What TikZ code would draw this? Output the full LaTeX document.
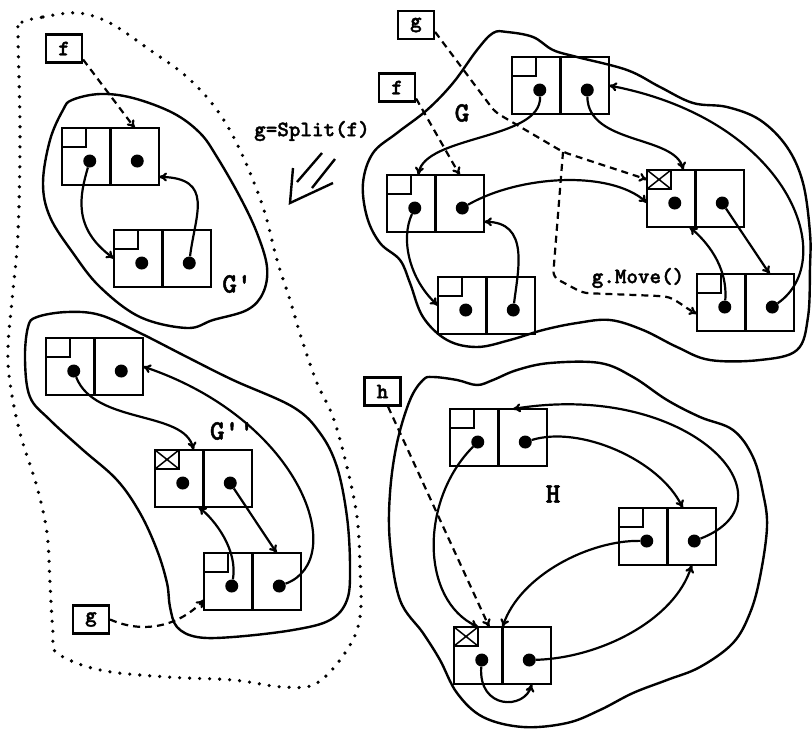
\documentclass[tikz,border=0pt]{standalone}
\usepackage{fontspec}
\newfontfamily\labfont{lmmonolt10-bold.otf}[FakeBold=1.6]
\usetikzlibrary{arrows.meta}
\begin{document}
\begin{tikzpicture}[x=1pt,y=-1pt,
  every node/.style={font=\fontsize{22}{24}\selectfont\labfont},
  cell/.style={draw,line width=2.6pt,minimum width=48.5pt,minimum height=57pt,inner sep=0pt,outer sep=0pt},
  tag/.style={draw,line width=1.9pt,minimum width=24pt,minimum height=19pt,inner sep=0pt,outer sep=0pt},
  dot/.style={circle,fill,inner sep=0pt,minimum size=13pt},
  var/.style={draw,line width=2.2pt,minimum width=36pt,minimum height=28pt,inner sep=0pt},
  big/.style={font=\fontsize{28}{30}\selectfont\labfont},
  ptr/.style={line width=2.2pt,-{To[length=8pt,width=9pt]}},
  pdash/.style={ptr,dash pattern=on 7pt off 5pt},
  blob/.style={line width=2.4pt}]
 \useasboundingbox (0,0) rectangle (812,729);
 % regions
 \draw[line width=3.6pt,line cap=round,dash pattern=on 0pt off 10pt] plot[smooth cycle,tension=0.6] coordinates {(20,23) (43,17) (78,13) (110,23) (150,50) (187,77) (217,110) (240,150) (263,207) (277,260) (290,300) (302,340) (317,383) (333,417) (347,467) (357,517) (360,567) (360,617) (347,650) (317,683) (283,687) (233,680) (167,677) (100,670) (57,653) (53,633) (50,583) (47,533) (37,487) (20,433) (10,383) (8,347) (12,300) (18,233) (20,133) (18,33)};
 \draw[blob] plot[smooth cycle,tension=0.6] coordinates {(72,100) (100,94) (133,98) (173,113) (200,133) (217,157) (240,197) (257,233) (267,267) (263,293) (247,310) (213,320) (187,328) (140,317) (100,287) (73,253) (50,217) (43,183) (50,140) (63,110)};
 \draw[blob] plot[smooth cycle,tension=0.6] coordinates {(37,317) (67,312) (100,315) (140,333) (187,357) (233,380) (293,407) (320,433) (337,467) (347,517) (350,567) (347,600) (330,620) (293,630) (233,637) (197,637) (177,627) (170,607) (167,583) (157,550) (140,513) (117,480) (83,450) (50,420) (30,397) (25,360) (28,327)};
 \draw[blob] plot[smooth cycle,tension=0.6] coordinates {(507,32) (533,37) (553,50) (577,57) (627,70) (660,87) (693,103) (727,107) (760,120) (787,147) (803,183) (810,233) (810,267) (808,317) (797,350) (760,360) (710,360) (677,347) (643,330) (610,320) (577,323) (543,330) (510,340) (477,347) (447,340) (423,317) (410,283) (400,260) (380,243) (367,217) (363,183) (373,153) (397,133) (427,110) (453,83) (477,50) (493,33)};
 \draw[blob] plot[smooth cycle,tension=0.6] coordinates {(433,377) (457,380) (477,385) (493,380) (517,370) (550,363) (600,363) (633,377) (667,400) (700,417) (733,430) (753,457) (763,493) (767,527) (760,577) (750,613) (733,643) (700,667) (667,680) (633,693) (600,710) (567,723) (523,727) (483,717) (457,693) (440,660) (423,633) (400,600) (390,543) (390,493) (397,443) (410,400) (423,380)};
 % records
 \foreach \n/\x/\y in {a1/62/128,a2/114/230,b1/46/338,b2/155/450,b3/204/553,c1/512/57,c2/387/175,c3/438/277,c4/647/170,c5/697/274,d1/450/409,d2/619/508,d3/454/627}{
  \node[cell,anchor=north west] (\n-l) at (\x,\y) {};
  \node[cell,anchor=west] (\n-r) at (\n-l.east) {};
  \node[tag,anchor=north west] (\n-t) at (\n-l.north west) {};
  \node[dot] (\n-p) at ([shift={(3.5,4.5)}]\n-l.center) {};
  \node[dot] (\n-q) at ([shift={(2.5,4.5)}]\n-r.center) {};
 }
 \foreach \n in {b2,c4,d3}
  \draw[line width=1.5pt] (\n-t.north west) -- (\n-t.south east) (\n-t.north east) -- (\n-t.south west);
 % variables and labels
 \node[var] (f1) at (64,48.5) {f};
 \node[var] (g1) at (416,25) {g};
 \node[var] (f2) at (397,87.5) {f};
 \node[var] (g2) at (91,619.5) {g};
 \node[var] (h) at (382.5,391.5) {h};
 \node (split-lab) at (312,131) {g=Split(f)};
 \node (move-lab) at (638,278) {g.Move()};
 \node[big] (g-one) at (237,284) {G'};
 \node[big] (g-two) at (232,431) {G'{}'};
 \node[big] (g-lab) at (462,113) {G};
 \node[big] (h-lab) at (553,494) {H};
 \draw[line width=2.4pt] (322,153) -- (297,182) (335,159) -- (312,188) (293,168) -- (290,203) -- (333,183);
 % G'
 \draw[pdash] (f1.-30) -- (a1-r.north);
 \draw[ptr] (a1-p) .. controls (80,195) and (72,228) .. (a2-l.west);
 \draw[ptr] (a2-q) .. controls (195,215) and (215,178) .. (a1-r.-40);
 % G''
 \draw[ptr] (b1-p) .. controls (95,425) and (185,410) .. ([xshift=-10pt]b2-l.north east);
 \draw[ptr] (b2-q) -- (b3-r.north);
 \draw[ptr] (b3-p) .. controls (238,550) and (215,520) .. ([xshift=-5pt]b2-l.south east);
 \draw[ptr] (b3-q) .. controls (350,560) and (302,420) .. (b1-r.east);
 \draw[pdash] (g2.east) .. controls (145,635) and (180,625) .. (b3-l.-143);
 % G
 \coordinate (branch) at (563,152);
 \draw[pdash,rounded corners=6pt] (g1.-20) -- (495,112) -- (branch) -- (c4-t.west);
 \draw[pdash,rounded corners=6pt] (branch) -- (553,277) -- (583,293) -- (660,296) .. controls (675,298) and (685,308) .. (c5-l.-155);
 \draw[pdash] (f2.-30) -- (c2-r.north);
 \draw[ptr] (c1-p) .. controls (542,140) and (425,135) .. ([xshift=7pt]c2-l.north);
 \draw[ptr] (c1-q) .. controls (588,145) and (675,135) .. ([xshift=12pt]c4-l.north);
 \draw[ptr] (c2-q) .. controls (520,175) and (610,170) .. (c4-l.-170);
 \draw[ptr] (c2-p) .. controls (400,240) and (410,280) .. (c3-l.west);
 \draw[ptr] (c3-q) .. controls (518,270) and (530,222) .. (c2-r.-37);
 \draw[ptr] (c4-q) -- (c5-r.north);
 \draw[ptr] (c5-p) .. controls (728,265) and (705,240) .. ([xshift=-6pt]c4-l.south east);
 \draw[ptr] (c5-q) .. controls (840,260) and (790,120) .. (c1-r.east);
 % H
 \draw[pdash] (h.-70) -- ([xshift=11pt]d3-l.north);
 \draw[ptr] (d1-p) .. controls (420,500) and (420,600) .. (d3-l.north);
 \draw[ptr] (d1-q) .. controls (580,425) and (660,460) .. ([xshift=-9pt]d2-r.north);
 \draw[ptr] (d2-q) .. controls (800,500) and (690,380) .. ([xshift=-10pt]d1-r.north);
 \draw[ptr] (d2-p) .. controls (590,540) and (520,575) .. (d3-l.north east);
 \draw[ptr] (d3-q) .. controls (600,658) and (675,620) .. (d2-r.south);
 \draw[ptr] (d3-p) .. controls (478,710) and (525,710) .. ([xshift=5pt]d3-r.south);
\end{tikzpicture}
\end{document}
